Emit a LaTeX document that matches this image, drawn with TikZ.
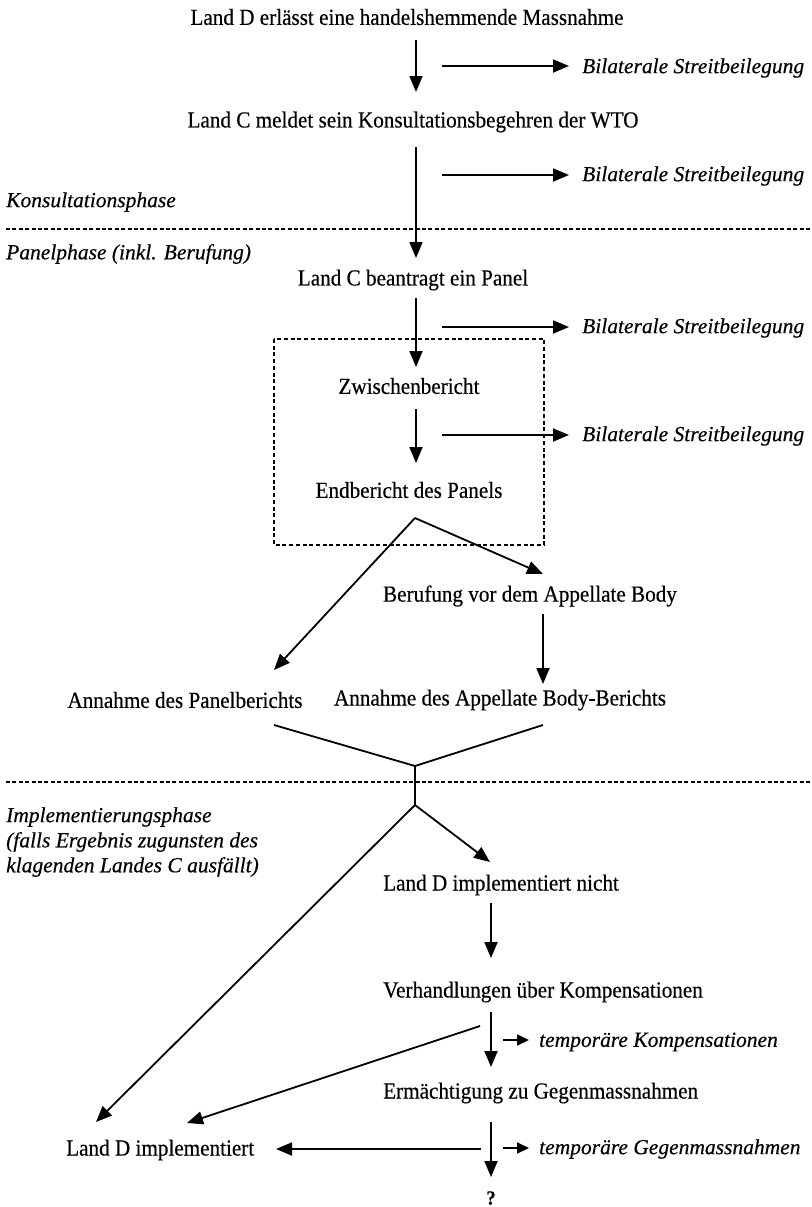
\documentclass[tikz,border=0pt]{standalone}
\usepackage{fontspec}
\setmainfont{Liberation Serif}[FakeStretch=0.92,FakeBold=0.4]
\newfontfamily\labfont{Liberation Serif}[FakeBold=0.4]
\usetikzlibrary{arrows.meta}
\begin{document}
\begin{tikzpicture}[x=1pt,y=-1pt,
  main/.style={font=\fontsize{23}{27}\selectfont, inner sep=0pt},
  lab/.style={font=\labfont\itshape\fontsize{21.5}{25}\selectfont, inner sep=0pt, anchor=west},
  arr/.style={line width=1.8pt, -{Triangle[length=16pt,width=13pt]}},
  sarr/.style={line width=1.8pt, -{Triangle[length=12pt,width=11pt]}},
  ln/.style={line width=1.8pt},
  sep/.style={line width=1.4pt, dash pattern=on 4pt off 2.4pt},
  boxd/.style={line width=1.6pt, dash pattern=on 4pt off 2.7pt},
]
\useasboundingbox (0,0) rectangle (811,1207);

% main texts
\node[main] (t1) at (407,17) {Land D erlässt eine handelshemmende Massnahme};
\node[main] (t2) at (413,122) {Land C meldet sein Konsultationsbegehren der WTO};
\node[main] (t3) at (413,280) {Land C beantragt ein Panel};
\node[main] (t4) at (409,386) {Zwischenbericht};
\node[main] (t5) at (409,490) {Endbericht des Panels};
\node[main] (t6) at (530,596) {Berufung vor dem Appellate Body};
\node[main] (t7) at (185,700) {Annahme des Panelberichts};
\node[main] (t8) at (500,700) {Annahme des Appellate Body-Berichts};
\node[main,anchor=west] (t9) at (383,885) {Land D implementiert nicht};
\node[main,anchor=west] (t10) at (383,992) {Verhandlungen über Kompensationen};
\node[main,anchor=west] (t11) at (383,1093) {Ermächtigung zu Gegenmassnahmen};
\node[main,anchor=west] (t12) at (66,1150) {Land D implementiert};
\node[main,font=\bfseries\fontsize{20}{24}\selectfont] (t13) at (491,1198) {?};

% side labels
\node[lab] (b1) at (582,68) {Bilaterale Streitbeilegung};
\node[lab] (b2) at (582,176) {Bilaterale Streitbeilegung};
\node[lab] (b3) at (582,328) {Bilaterale Streitbeilegung};
\node[lab] (b4) at (582,436) {Bilaterale Streitbeilegung};
\node[lab] (k1) at (539,1042) {temporäre Kompensationen};
\node[lab] (k2) at (539,1149) {temporäre Gegenmassnahmen};

% phase labels
\node[lab] (p1) at (6,202) {Konsultationsphase};
\node[lab] (p2) at (6,254) {Panelphase (inkl. Berufung)};
\node[lab] (p3) at (6,817) {Implementierungsphase};
\node[lab] (p4) at (6,842) {(falls Ergebnis zugunsten des};
\node[lab] (p5) at (6,867) {klagenden Landes C ausfällt)};

% separators
\coordinate (s1l) at (6,229); \coordinate (s1r) at (811,229);
\coordinate (s2l) at (6,782); \coordinate (s2r) at (811,782);
\draw[sep] (s1l) -- (s1r);
\draw[sep] (s2l) -- (s2r);

% dashed box
\coordinate (bx1) at (274,339); \coordinate (bx2) at (544,545);
\draw[boxd] (bx1) rectangle (bx2);

% coordinates
\coordinate (a1s) at (416,40);  \coordinate (a1e) at (416,92);
\coordinate (a2s) at (416,147); \coordinate (a2e) at (416,258);
\coordinate (a3s) at (416,298); \coordinate (a3e) at (416,367);
\coordinate (a4s) at (416,409); \coordinate (a4e) at (416,463);
\coordinate (h1s) at (442,66);  \coordinate (h1e) at (569,66);
\coordinate (h2s) at (442,175); \coordinate (h2e) at (569,175);
\coordinate (h3s) at (442,327); \coordinate (h3e) at (569,327);
\coordinate (h4s) at (442,435); \coordinate (h4e) at (569,435);
\coordinate (vpk) at (415,518);
\coordinate (vl) at (274,670);
\coordinate (vr) at (543,574);
\coordinate (a5s) at (543,614); \coordinate (a5e) at (543,684);
\coordinate (yl) at (274,725); \coordinate (yr) at (543,725);
\coordinate (yj) at (415,766); \coordinate (ys) at (415,805);
\coordinate (dl) at (96,1122);
\coordinate (dr) at (490,862);
\coordinate (a6s) at (491,903); \coordinate (a6e) at (491,958);
\coordinate (a7s) at (491,1012); \coordinate (a7e) at (491,1067);
\coordinate (k1s) at (503,1040); \coordinate (k1e) at (529,1040);
\coordinate (d2s) at (480,1026); \coordinate (d2e) at (187,1123);
\coordinate (a8s) at (491,1122); \coordinate (a8e) at (491,1177);
\coordinate (hhs) at (481,1149); \coordinate (hhe) at (276,1149);
\coordinate (k2s) at (503,1148); \coordinate (k2e) at (529,1148);

% arrows
\draw[arr] (a1s) -- (a1e);
\draw[arr] (a2s) -- (a2e);
\draw[arr] (a3s) -- (a3e);
\draw[arr] (a4s) -- (a4e);
\draw[arr] (h1s) -- (h1e);
\draw[arr] (h2s) -- (h2e);
\draw[arr] (h3s) -- (h3e);
\draw[arr] (h4s) -- (h4e);
\draw[arr] (vpk) -- (vl);
\draw[arr] (vpk) -- (vr);
\draw[arr] (a5s) -- (a5e);
\draw[ln] (yl) -- (yj) -- (yr);
\draw[ln] (yj) -- (ys);
\draw[arr] (ys) -- (dl);
\draw[arr] (ys) -- (dr);
\draw[arr] (a6s) -- (a6e);
\draw[arr] (a7s) -- (a7e);
\draw[sarr] (k1s) -- (k1e);
\draw[arr] (d2s) -- (d2e);
\draw[arr] (a8s) -- (a8e);
\draw[arr] (hhs) -- (hhe);
\draw[sarr] (k2s) -- (k2e);
\end{tikzpicture}
\end{document}
